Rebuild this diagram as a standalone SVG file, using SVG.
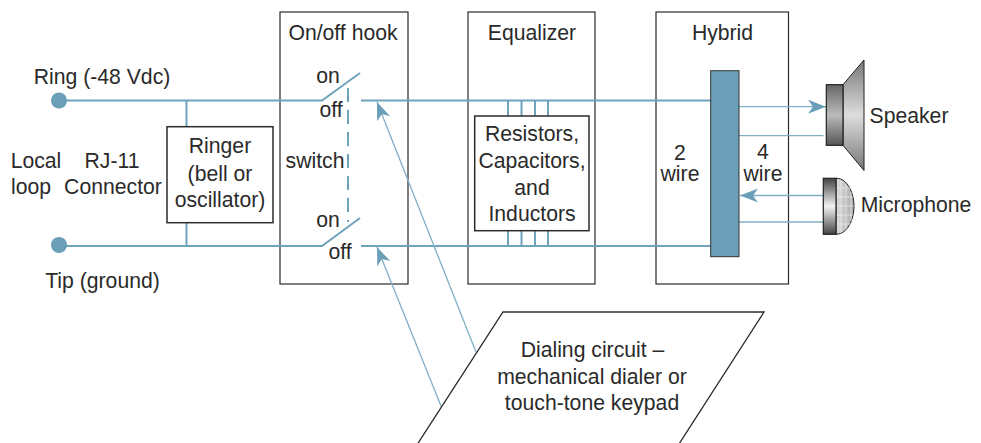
<svg xmlns="http://www.w3.org/2000/svg" width="981" height="443" viewBox="0 0 981 443">
<style>
text{font-family:"Liberation Sans",Arial,sans-serif;font-size:21.2px;fill:#2a2a2a;text-anchor:middle}
.box{fill:none;stroke:#2b2b2b;stroke-width:1.2}
.wbox{fill:#fff;stroke:#2b2b2b;stroke-width:1.5}
.w{fill:none;stroke:#6fa3bb;stroke-width:2}
.t{fill:none;stroke:#7fafc4;stroke-width:1.3}
.f{fill:#6b9fb8}
</style>
<defs>
<marker id="ah" markerUnits="userSpaceOnUse" markerWidth="20" markerHeight="16" refX="18" refY="7" orient="auto"><path d="M0 0L18 7L0 14L5 7Z" fill="#6b9fb8"/></marker>
<linearGradient id="g1" x1="0" y1="0" x2="0" y2="1"><stop offset="0" stop-color="#666"/><stop offset=".5" stop-color="#bbb"/><stop offset="1" stop-color="#555"/></linearGradient>
<linearGradient id="g2" x1="0" y1="0" x2="0" y2="1"><stop offset="0" stop-color="#777"/><stop offset=".5" stop-color="#ddd"/><stop offset="1" stop-color="#777"/></linearGradient>
<linearGradient id="g3" x1="0" y1="0" x2="0" y2="1"><stop offset="0" stop-color="#444"/><stop offset=".5" stop-color="#f2f2f2"/><stop offset="1" stop-color="#444"/></linearGradient>
<linearGradient id="g4" x1="0" y1="0" x2="1" y2="0"><stop offset="0" stop-color="#ddd"/><stop offset="1" stop-color="#aaa"/></linearGradient>
</defs>
<g id="hook"><rect class="box" x="280" y="12" width="128" height="272"/><text x="343" y="40">On/off hook</text></g>
<g id="equalizer"><rect class="box" x="468" y="12" width="127" height="272"/><text x="532" y="40">Equalizer</text></g>
<g id="hybrid"><rect class="box" x="656" y="12" width="132.500" height="272"/><text x="722.500" y="40">Hybrid</text></g>
<g id="connectors">
<path class="w" d="M59 100.500H322L360 73M361 100.500H711"/>
<path class="w" d="M59 246H322L360 218M361 246H711"/>
<path class="w" d="M186.500 100.500V127M186.500 222V246"/>
<path class="w" d="M348 88V222" stroke-dasharray="14 8"/>
<path class="w" d="M508 100.500V116M521.500 100.500V116M535 100.500V116M548 100.500V116M508 230V246M521.500 230V246M535 230V246M548 230V246"/>
<path class="t" d="M739 106.700H826" marker-end="url(#ah)"/>
<path class="t" d="M739 135.700H823.500"/>
<path class="t" d="M823 195.500H740" marker-end="url(#ah)"/>
<path class="t" d="M739 222H823"/>
<path class="t" d="M476 352L377 102" marker-end="url(#ah)"/>
<path class="t" d="M441 406L377 247" marker-end="url(#ah)"/>
</g>
<g id="ring"><circle class="f" cx="59" cy="100.500" r="8"/><text x="102" y="84">Ring (-48 Vdc)</text></g>
<g id="tip"><circle class="f" cx="59" cy="245" r="8"/><text x="102.500" y="288">Tip (ground)</text></g>
<g id="labels">
<text x="36" y="168">Local</text><text x="31" y="194">loop</text>
<text x="112" y="168">RJ-11</text><text x="113" y="194">Connector</text>
<text x="328" y="83">on</text><text x="331" y="117">off</text><text x="315" y="168">switch</text><text x="328" y="227">on</text><text x="340" y="259">off</text>
<text x="680" y="160">2</text><text x="680" y="181">wire</text>
<text x="763" y="159">4</text><text x="763" y="181">wire</text>
</g>
<g id="ringer"><rect class="wbox" x="167" y="126.700" width="106" height="96"/><text x="220" y="153">Ringer</text><text x="220" y="180.500">(bell or</text><text x="220" y="207">oscillator)</text></g>
<g id="rcl"><rect class="wbox" x="474.700" y="116" width="114.300" height="114.700"/><text x="532" y="141">Resistors,</text><text x="532" y="168">Capacitors,</text><text x="532" y="195">and</text><text x="532" y="221">Inductors</text></g>
<g id="bar"><rect x="710.700" y="70.700" width="28.300" height="186" fill="#6b9fb8" stroke="#333" stroke-width="1"/></g>
<g id="speaker"><path d="M843 84.700L864 60V170.500L843 145.300Z" fill="url(#g2)" stroke="#222" stroke-width="1"/><rect x="826.300" y="84.700" width="16.700" height="60.600" fill="url(#g1)" stroke="#222" stroke-width="1.200"/><text x="909" y="123">Speaker</text></g>
<g id="microphone"><path d="M836 178.300C848 178 854 194 854 206C854 219 848 234 836 234.300Z" fill="url(#g4)" stroke="#222" stroke-width="1"/><path d="M841 180V233M846 184V229M851 192V221M836 188H851M836 197H853M836 206H854M836 215H853M836 224H851" stroke="#eee" stroke-width=".7" fill="none"/><rect x="823.300" y="178.300" width="12.700" height="56" fill="url(#g3)" stroke="#222" stroke-width="1.200"/><text x="916" y="212">Microphone</text></g>
<g id="dialing"><path d="M503 312H764L679 444H417.500Z" fill="#fff" stroke="#2b2b2b" stroke-width="1.300"/><text x="592.500" y="357">Dialing circuit –</text><text x="592" y="383.500">mechanical dialer or</text><text x="592" y="410">touch-tone keypad</text></g>
</svg>
